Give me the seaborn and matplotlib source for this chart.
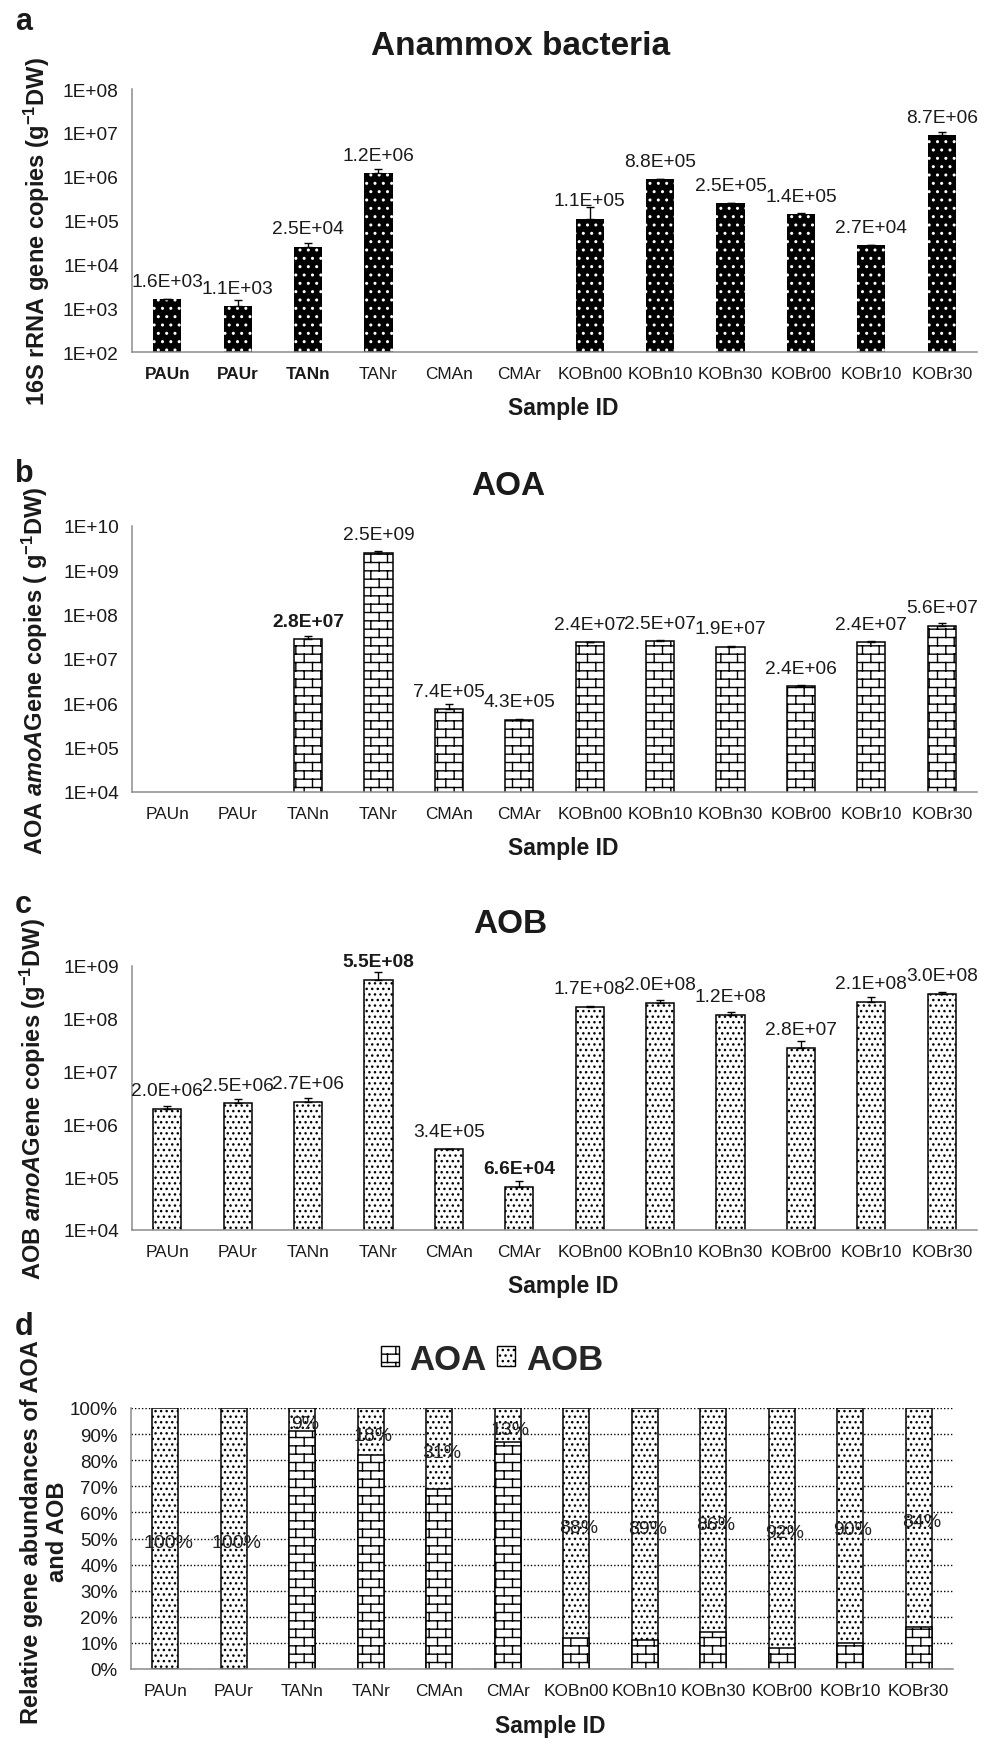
"""
Four-panel gene abundance figure: anammox 16S rRNA, AOA amoA, AOB amoA
(log scale bars with error bars) and the relative AOA / AOB share.
"""

import warnings
import numpy as np
import pandas as pd
import matplotlib
matplotlib.use("Agg")
import matplotlib.pyplot as plt
from matplotlib import hatch as mhatch
from matplotlib.path import Path
from matplotlib.patches import Patch
from matplotlib.ticker import NullLocator
import seaborn as sns

warnings.filterwarnings("ignore")

# ── Data ──────────────────────────────────────────────────────────────────────
SAMPLES = ["PAUn", "PAUr", "TANn", "TANr", "CMAn", "CMAr",
           "KOBn00", "KOBn10", "KOBn30", "KOBr00", "KOBr10", "KOBr30"]

ANAMMOX     = [1.6e3, 1.1e3, 2.5e4, 1.2e6, np.nan, np.nan,
               1.1e5, 8.8e5, 2.5e5, 1.4e5, 2.7e4, 8.7e6]
ANAMMOX_ERR = [0.03e3, 0.4e3, 0.6e4, 0.28e6, 0, 0,
               0.95e5, 0.02e5, 0.05e5, 0.06e5, 0.05e4, 2.0e6]

AOA     = [np.nan, np.nan, 2.8e7, 2.5e9, 7.4e5, 4.3e5,
           2.4e7, 2.5e7, 1.9e7, 2.4e6, 2.4e7, 5.6e7]
AOA_ERR = [0, 0, 0.47e7, 0.2e9, 0.25e6, 0.2e5,
           0.08e7, 0.12e7, 0.05e7, 0.15e6, 0.1e7, 0.8e7]

AOB     = [2.0e6, 2.5e6, 2.7e6, 5.5e8, 3.4e5, 6.6e4,
           1.7e8, 2.0e8, 1.2e8, 2.8e7, 2.1e8, 3.0e8]
AOB_ERR = [0.2e6, 0.55e6, 0.5e6, 2.1e8, 0, 2.0e4,
           0.05e8, 0.28e8, 0.14e8, 1.0e7, 0.47e8, 0.2e8]

# AOB share of (AOA + AOB), percent, as printed in panel d
AOB_PCT = [100, 100, 9, 18, 31, 13, 88, 89, 86, 92, 90, 84]

YTICKS_A = [1e2, 1e3, 1e4, 1e5, 1e6, 1e7, 1e8]
YTICKS_B = [1e4, 1e5, 1e6, 1e7, 1e8, 1e9, 1e10]
YTICKS_C = [1e4, 1e5, 1e6, 1e7, 1e8, 1e9]
YLABELS_A = ["1E+02", "1E+03", "1E+04", "1E+05", "1E+06", "1E+07", "1E+08"]
YLABELS_B = ["1E+04", "1E+05", "1E+06", "1E+07", "1E+08", "1E+09", "1E+10"]
YLABELS_C = ["1E+04", "1E+05", "1E+06", "1E+07", "1E+08", "1E+09"]
YTICKS_D = [0, 10, 20, 30, 40, 50, 60, 70, 80, 90, 100]
YLABELS_D = ["0%", "10%", "20%", "30%", "40%", "50%",
             "60%", "70%", "80%", "90%", "100%"]

# ── Style ─────────────────────────────────────────────────────────────────────
W, H = 1003, 1740
AXIS = "#8c8c8c"
TEXT = "#1a1a1a"
BRICK = "bb"
DOTS_BLACK = "..."
DOTS_WHITE = ".."


class BrickHatch(mhatch.HatchPatternBase):
    """Brick wall hatch: rows of bricks, every other row shifted by half."""

    def __init__(self, hatch, density):
        self.num_rows = hatch.count("b") * density
        self.num_cols = self.num_rows // 2
        self.num_vertices = 2 * self.num_rows + 2 * self.num_cols * (self.num_rows + 1)

    def set_vertices_and_codes(self, vertices, codes):
        n, m = self.num_rows, self.num_cols
        step = 1.0 / n
        segs = []
        for row in range(n):
            y = (row + 0.5) * step
            segs.append(((0.0, y), (1.0, y)))
            shift = (0.25 + 0.5 * (row % 2)) / m
            for col in range(m):
                x = col / m + shift
                if row < n - 1:
                    segs.append(((x, y), (x, y + step)))
                else:
                    segs.append(((x, y), (x, 1.0)))
                    segs.append(((x, 0.0), (x, 0.5 * step)))
        vertices[:] = np.array(segs).reshape(-1, 2)
        codes[0::2] = Path.MOVETO
        codes[1::2] = Path.LINETO


mhatch._hatch_types.append(BrickHatch)

sns.set_theme(style="white")
plt.rcParams["font.family"] = ["Liberation Sans", "DejaVu Sans"]
plt.rcParams["mathtext.fontset"] = "custom"
plt.rcParams["mathtext.rm"] = "Liberation Sans:bold"
plt.rcParams["mathtext.bf"] = "Liberation Sans:bold"
plt.rcParams["mathtext.it"] = "Liberation Sans:italic:bold"
plt.rcParams["hatch.linewidth"] = 1.0


def fig_rect(left, top, right, bottom):
    return [left / W, 1 - bottom / H, (right - left) / W, (bottom - top) / H]


def style_axis(ax, yticks, ylabels, ylabel, ylab_xy, xlab_y):
    n = len(SAMPLES)
    ax.set_xlim(-0.5, n - 0.5)
    ax.set_yticks(yticks, labels=ylabels)
    ax.yaxis.set_minor_locator(NullLocator())
    ax.set_xticks(np.arange(-0.5, n, 1.0), minor=True)
    ax.tick_params(axis="x", which="major", length=0, pad=10,
                   labelsize=12.4, labelcolor=TEXT)
    ax.tick_params(axis="x", which="minor", length=4, width=1.1,
                   color=AXIS, direction="out")
    ax.tick_params(axis="y", which="major", length=3.5, width=1.1,
                   color=AXIS, direction="out", pad=6,
                   labelsize=13.8, labelcolor=TEXT)
    for s in ("top", "right"):
        ax.spines[s].set_visible(False)
    for s in ("left", "bottom"):
        ax.spines[s].set_color(AXIS)
        ax.spines[s].set_linewidth(1.1)
    ax.set_ylabel(ylabel, fontsize=17, fontweight="bold", color=TEXT)
    ax.yaxis.set_label_coords(*ylab_xy)
    ax.set_xlabel("Sample ID", fontsize=16.5, fontweight="bold", color=TEXT)
    ax.xaxis.set_label_coords(0.51, xlab_y)


def log_panel(ax, values, errors, yticks, ylabels, face, edge, lw, hatch,
              ylabel, ylab_xy, xlab_y, bold_labels=()):
    df = pd.DataFrame({"sample": SAMPLES, "value": values}).dropna()
    sns.barplot(data=df, x="sample", y="value", order=SAMPLES, ax=ax,
                width=0.4, errorbar=None, color="black")
    for p in ax.patches:
        p.set_facecolor(face)
        p.set_edgecolor(edge)
        p.set_linewidth(lw)
        p.set_hatch(hatch)
    ax.set_yscale("log")
    ax.set_ylim(yticks[0], yticks[-1])
    x = np.arange(len(SAMPLES))
    ax.errorbar(x, values, yerr=[np.zeros(len(errors)), errors], fmt="none",
                ecolor="black", elinewidth=1.0, capsize=3, capthick=1.0, zorder=3)
    for i, v in enumerate(values):
        if np.isnan(v):
            continue
        ax.annotate(f"{v:.1E}", (i, v), xytext=(0, 13), textcoords="offset points",
                    ha="center", va="center", fontsize=13.8, color=TEXT,
                    fontweight="bold" if i in bold_labels else "normal")
    style_axis(ax, yticks, ylabels, ylabel, ylab_xy, xlab_y)


fig = plt.figure(figsize=(W / 100, H / 100), dpi=100)

# ── a: anammox ───────────────────────────────────────────────────────────────
ax_a = fig.add_axes(fig_rect(132, 90, 977, 353))
log_panel(ax_a, ANAMMOX, ANAMMOX_ERR, YTICKS_A, YLABELS_A,
          "black", "white", 0, DOTS_WHITE,
          r"16S rRNA gene copies (g$^{-1}$DW)", (-0.095, 0.46), -0.168)
for lbl in ax_a.get_xticklabels()[:3]:
    lbl.set_fontweight("bold")

# ── b: AOA ───────────────────────────────────────────────────────────────────
ax_b = fig.add_axes(fig_rect(132, 527, 977, 793))
log_panel(ax_b, AOA, AOA_ERR, YTICKS_B, YLABELS_B,
          "white", "black", 1.1, BRICK,
          r"AOA $\mathit{amoA}$Gene copies ( g$^{-1}$DW)", (-0.097, 0.46), -0.166,
          bold_labels=(2,))

# ── c: AOB ───────────────────────────────────────────────────────────────────
ax_c = fig.add_axes(fig_rect(132, 967, 977, 1231))
log_panel(ax_c, AOB, AOB_ERR, YTICKS_C, YLABELS_C,
          "white", "black", 1.1, DOTS_BLACK,
          r"AOB $\mathit{amoA}$Gene copies (g$^{-1}$DW)", (-0.099, 0.50), -0.167,
          bold_labels=(3, 5))

# ── d: relative share ────────────────────────────────────────────────────────
ax_d = fig.add_axes(fig_rect(131, 1409, 953, 1670))
aob_pct = np.array(AOB_PCT, dtype=float)
aoa_pct = 100 - aob_pct
share = pd.DataFrame({"sample": SAMPLES, "aoa": aoa_pct, "total": aoa_pct + aob_pct})
sns.barplot(data=share, x="sample", y="total", order=SAMPLES, ax=ax_d,
            width=0.38, errorbar=None, color="white")
sns.barplot(data=share, x="sample", y="aoa", order=SAMPLES, ax=ax_d,
            width=0.38, errorbar=None, color="white")
n = len(SAMPLES)
for k, p in enumerate(ax_d.patches):
    p.set_facecolor("white")
    p.set_edgecolor("black")
    p.set_linewidth(1.1)
    p.set_hatch(DOTS_BLACK if k < n else BRICK)
ax_d.set_ylim(0, 100)
ax_d.set_axisbelow(True)
ax_d.yaxis.grid(True, linestyle=(0, (1, 1.5)), color="black", linewidth=1.0)
for i, pct in enumerate(AOB_PCT):
    ax_d.annotate(f"{pct}%", (i, 100 - pct / 2), xytext=(2, -3),
                  textcoords="offset points", ha="center", va="center",
                  fontsize=14, color="#222222")
style_axis(ax_d, YTICKS_D, YLABELS_D, "Relative gene abundances of AOA\nand AOB",
           (-0.076, 0.53), -0.172)
ax_d.yaxis.label.set_linespacing(1.15)
ax_d.tick_params(axis="y", labelsize=13.5)

fig.legend(handles=[Patch(facecolor="white", edgecolor="black", linewidth=1.0, hatch=BRICK),
                    Patch(facecolor="white", edgecolor="black", linewidth=1.0, hatch=DOTS_BLACK)],
           labels=["AOA", "AOB"], loc="center", ncol=2, frameon=False,
           bbox_to_anchor=(492 / W, 1 - 1360 / H),
           prop={"weight": "bold", "size": 25},
           handlelength=0.52, handleheight=0.52, handletextpad=0.3,
           columnspacing=0.3, borderpad=0, borderaxespad=0)

# ── Titles and panel letters ─────────────────────────────────────────────────
for txt, x, y in [("Anammox bacteria", 521, 55), ("AOA", 508, 495), ("AOB", 510, 933)]:
    fig.text(x / W, 1 - y / H, txt, ha="center", va="baseline",
             fontsize=24, fontweight="bold", color=TEXT)
for txt, y in [("a", 30), ("b", 482), ("c", 913), ("d", 1335)]:
    fig.text(15 / W, 1 - y / H, txt, ha="left", va="baseline",
             fontsize=22, fontweight="bold", color=TEXT)

fig.savefig("out.png", dpi=100)
